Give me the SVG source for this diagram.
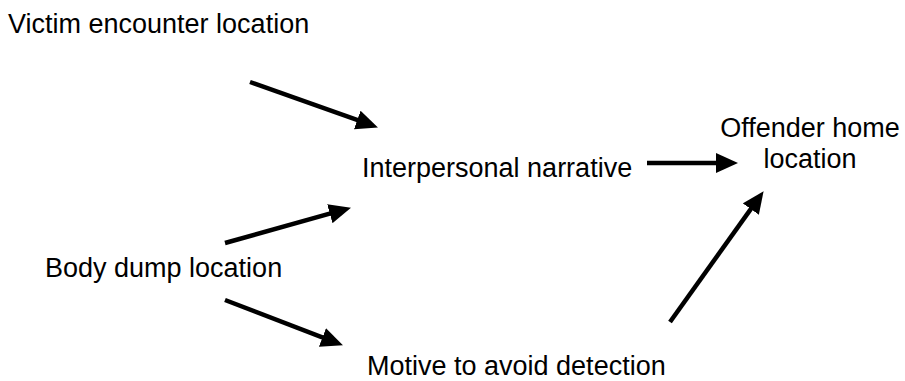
<svg xmlns="http://www.w3.org/2000/svg" width="905" height="381" viewBox="0 0 905 381">
<style>
text{font-family:"Liberation Sans",Arial,sans-serif;font-size:27px;fill:#000}
.c{stroke:#000;stroke-width:4.5;fill:none}
</style>
<defs>
<marker id="ah" markerUnits="userSpaceOnUse" markerWidth="22" markerHeight="20" refX="10" refY="9" orient="auto" viewBox="0 0 20 18">
<path d="M0,0 L20,9 L0,18 z" fill="#000"/>
</marker>
</defs>
<rect width="905" height="381" fill="#fff"/>
<g id="victim"><text x="8" y="33">Victim encounter location</text></g>
<g id="interpersonal"><text x="362" y="177">Interpersonal narrative</text></g>
<g id="offender"><text x="810" y="137" text-anchor="middle">Offender home</text><text x="810" y="168" text-anchor="middle">location</text></g>
<g id="body"><text x="45" y="277">Body dump location</text></g>
<g id="motive"><text x="367" y="375">Motive to avoid detection</text></g>
<g id="connectors">
<line class="c" x1="250" y1="82" x2="367.6" y2="123.7" marker-end="url(#ah)"/>
<line class="c" x1="647" y1="163" x2="727" y2="163" marker-end="url(#ah)"/>
<line class="c" x1="225" y1="243" x2="340.4" y2="210.7" marker-end="url(#ah)"/>
<line class="c" x1="225" y1="300" x2="332.7" y2="341.4" marker-end="url(#ah)"/>
<line class="c" x1="670" y1="322" x2="757.2" y2="200.1" marker-end="url(#ah)"/>
</g>
</svg>
